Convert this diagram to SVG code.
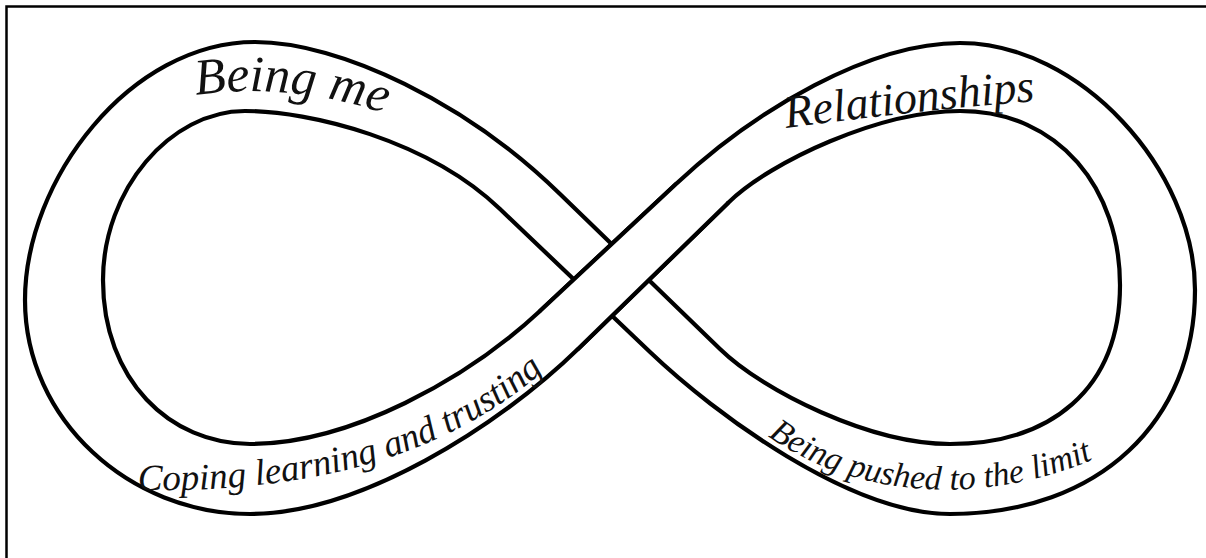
<svg xmlns="http://www.w3.org/2000/svg" width="1206" height="558" viewBox="0 0 1206 558">
<style>
.edge{fill:none;stroke:#000;stroke-width:4.2;stroke-linejoin:round;stroke-linecap:round}
.lbl{font-family:"Liberation Serif","Times New Roman",serif;font-style:italic;fill:#111}
</style>
<defs>
<path id="p1" d="M 196 95 Q 300 80 412 123"/>
<path id="p2" d="M 786 128 Q 920 110 1048 100"/>
<path id="p3" d="M 138 490 C 260 492 430 478 556 360"/>
<path id="p4" d="M 768 436 C 850 495 980 512 1108 453"/>
</defs>
<rect width="1206" height="558" fill="#fff"/>
<g id="frame" fill="none" stroke="#000" stroke-width="2.5">
<path d="M 6.5 558 L 6.5 6.5 L 1206 6.5"/>
</g>
<g id="band">
<path id="loopB" class="edge" d="M 676 184 C 756 109 870 43 960 43 C 1080 43 1195 170 1195 290 C 1195 420 1100 514 950 514 C 850 514 715 414 650 352 L 500 209 C 428 140 310 111 245 111 C 170 111 103 190 103 280 C 103 380 170 444 250 444 C 350 444 467 379 540 311 Z"/>
<path id="loopA" class="edge" d="M 560 194 C 467 103 340 42 255 42 C 130 42 25 180 25 300 C 25 420 130 514 250 514 C 360 514 499 426 578 349 L 728 203 C 771 161 880 111 960 111 C 1060 111 1120 190 1120 285 C 1120 390 1050 444 950 444 C 870 444 763 391 720 349 Z"/>
<polygon points="676,184 728,203 578,349 540,311" fill="#fff"/>
<path class="edge" d="M 676 184 L 540 311 M 728 203 L 578 349"/>
</g>
<g id="label-being-me"><text class="lbl" font-size="51"><textPath href="#p1">Being me</textPath></text></g>
<g id="label-relationships"><text class="lbl" font-size="46"><textPath href="#p2">Relationships</textPath></text></g>
<g id="label-coping"><text class="lbl" font-size="37"><textPath href="#p3">Coping learning and trusting</textPath></text></g>
<g id="label-pushed"><text class="lbl" font-size="34"><textPath href="#p4">Being pushed to the limit</textPath></text></g>
</svg>
